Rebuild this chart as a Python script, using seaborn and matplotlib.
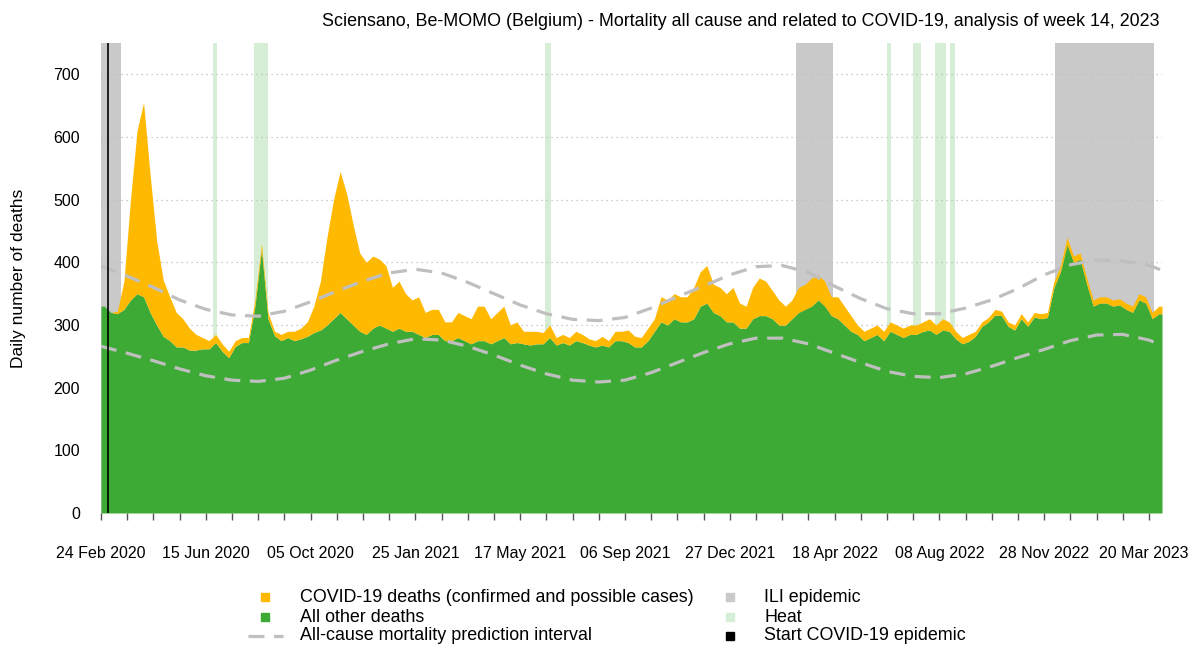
import pandas as pd
import matplotlib
matplotlib.use("Agg")
import matplotlib.pyplot as plt
import matplotlib.transforms as mtransforms
from matplotlib.lines import Line2D
import seaborn as sns

# Mean daily deaths per week, weeks starting Monday 24 Feb 2020 (162 weeks)
other_deaths = [
    330, 320, 318, 325, 340, 350, 345, 320, 300, 282, 275, 265, 265, 260, 260, 262,
    262, 272, 258, 248, 266, 272, 272, 330, 420, 310, 283, 275, 280, 275, 278, 282,
    288, 292, 300, 310, 320, 310, 300, 290, 285, 295, 300, 295, 290, 295, 290, 290,
    285, 280, 285, 285, 275, 275, 280, 275, 270, 275, 275, 270, 275, 280, 270, 272,
    270, 268, 270, 270, 280, 268, 272, 268, 275, 272, 268, 265, 268, 265, 275, 275,
    272, 265, 265, 275, 290, 305, 300, 310, 305, 305, 310, 330, 335, 320, 315, 305,
    305, 295, 295, 310, 315, 315, 310, 300, 300, 310, 320, 325, 330, 340, 330, 315,
    310, 300, 290, 285, 275, 280, 285, 275, 290, 285, 280, 285, 285, 290, 292, 285,
    292, 290, 278, 270, 274, 282, 298, 305, 316, 315, 298, 292, 310, 298, 313, 310,
    312, 360, 385, 428, 400, 405, 365, 330, 335, 335, 330, 332, 325, 320, 340, 335,
    310, 318,
]
covid_deaths = [
    0, 0, 4, 45, 160, 260, 310, 220, 135, 90, 70, 55, 45, 35, 25, 18,
    13, 13, 12, 10, 9, 8, 8, 10, 10, 10, 7, 10, 10, 15, 17, 23,
    42, 78, 140, 190, 225, 200, 160, 125, 115, 115, 105, 100, 70, 75, 60, 50,
    60, 40, 40, 40, 30, 30, 40, 40, 40, 55, 55, 40, 45, 50, 30, 33,
    20, 22, 20, 18, 20, 12, 13, 12, 15, 13, 10, 10, 14, 10, 15, 15,
    20, 17, 15, 20, 20, 40, 40, 40, 40, 40, 50, 55, 60, 45, 45, 45,
    55, 40, 35, 50, 60, 55, 45, 40, 30, 30, 40, 40, 45, 40, 40, 30,
    35, 30, 25, 15, 15, 15, 15, 15, 15, 15, 15, 15, 15, 15, 18, 15,
    18, 15, 12, 10, 11, 8, 7, 7, 9, 7, 7, 8, 8, 7, 7, 8,
    8, 10, 10, 12, 10, 10, 10, 10, 10, 10, 10, 10, 10, 10, 10, 10,
    10, 12,
]

# All-cause prediction interval, every 28 days from 24 Feb 2020, last value on 2 Apr 2023
pi_upper = [394, 378, 360, 340, 325, 316, 314, 322, 337, 354, 370, 383, 389, 383,
            368, 350, 332, 318, 309, 307, 312, 327, 345, 362, 380, 393, 395, 384,
            362, 342, 326, 318, 318, 327, 340, 358, 380, 396, 404, 402, 395, 388]
pi_lower = [266, 255, 243, 230, 219, 212, 210, 215, 228, 244, 258, 270, 278, 276,
            266, 252, 236, 222, 212, 209, 212, 224, 240, 256, 270, 279, 279, 270,
            255, 240, 226, 218, 216, 222, 234, 248, 261, 275, 284, 285, 276, 268]

ili_periods = [("2020-02-24", "2020-03-16"), ("2022-03-08", "2022-04-16"),
               ("2022-12-10", "2023-03-25")]
heat_periods = [("2020-06-23", "2020-06-27"), ("2020-08-05", "2020-08-21"),
                ("2021-06-13", "2021-06-19"), ("2022-06-13", "2022-06-17"),
                ("2022-07-11", "2022-07-19"), ("2022-08-03", "2022-08-15"),
                ("2022-08-19", "2022-08-25")]
covid_start = "2020-03-02"

title = ("Sciensano, Be-MOMO (Belgium) - Mortality all cause and related to "
         "COVID-19, analysis of week 14, 2023")
legend_left = ["COVID-19 deaths (confirmed and possible cases)", "All other deaths",
               "All-cause mortality prediction interval"]
legend_right = ["ILI epidemic", "Heat", "Start COVID-19 epidemic"]

YELLOW = "#FFB900"
GREEN = "#3DAA35"
ILI_GREY = "#C9C9C9"
HEAT = "#D6EED6"
DASH = "#BFBFBF"

sns.set_theme(style="white")
plt.rcParams["font.family"] = ["Liberation Sans", "DejaVu Sans"]

first_day = pd.Timestamp("2020-02-24")
last_day = pd.Timestamp("2023-04-03")

n_weeks = len(other_deaths)
centers = [first_day + pd.Timedelta(days=7 * w + 3.5) for w in range(n_weeks)]
weekly = pd.DataFrame({"date": centers, "other": other_deaths, "covid": covid_deaths})
weekly["total"] = weekly["other"] + weekly["covid"]
# carry the first and last week out to the edges of the period
edge = pd.DataFrame({"date": [first_day, last_day],
                     "other": [other_deaths[0], other_deaths[-1]],
                     "covid": [covid_deaths[0], covid_deaths[-1]]})
edge["total"] = edge["other"] + edge["covid"]
weekly = pd.concat([edge.iloc[[0]], weekly, edge.iloc[[1]]], ignore_index=True)

pi_dates = list(pd.date_range(first_day, periods=len(pi_upper) - 1, freq="28D")) + \
    [pd.Timestamp("2023-04-02")]
pi = pd.DataFrame({"date": pi_dates, "upper": pi_upper, "lower": pi_lower})

W, H = 1193, 646
fig = plt.figure(figsize=(W / 100, H / 100), dpi=100)
ax = fig.add_axes([101 / W, 1 - 513 / H, 1061 / W, 470 / H])

for s, e in ili_periods:
    ax.axvspan(pd.Timestamp(s), pd.Timestamp(e), color=ILI_GREY, lw=0, zorder=0.2)
for s, e in heat_periods:
    ax.axvspan(pd.Timestamp(s), pd.Timestamp(e), color=HEAT, lw=0, zorder=0.2)

ax.fill_between(weekly["date"], 0, weekly["other"], color=GREEN, lw=0, zorder=2)
ax.fill_between(weekly["date"], weekly["other"], weekly["total"], color=YELLOW,
                lw=0, zorder=2)

for col in ["upper", "lower"]:
    sns.lineplot(data=pi, x="date", y=col, ax=ax, color=DASH, lw=2.3,
                 dashes=False, zorder=3)
for ln in ax.get_lines():
    ln.set_dashes((5, 3))

ax.axvline(pd.Timestamp(covid_start), color="black", lw=1.2, zorder=4)

ax.set_xlim(first_day, last_day)
ax.set_ylim(0, 750)
ax.set_yticks(range(0, 800, 100))
ax.set_axisbelow(True)
ax.yaxis.grid(True, color="#BDBDBD", lw=0.9, ls=(0, (1, 3)))
ax.xaxis.grid(False)
for sp in ax.spines.values():
    sp.set_visible(False)

major = pd.date_range(first_day, "2023-03-20", freq="112D")
minor = pd.date_range(first_day, "2023-03-20", freq="28D")
ax.set_xticks(minor, minor=True)
ax.set_xticks(major)
ax.set_xticklabels([d.strftime("%d %b %Y") for d in major])
ax.tick_params(axis="x", which="both", bottom=True, length=5, width=1,
               color="#555555", labelsize=11.5, pad=19, labelcolor="black")
ax.tick_params(axis="y", length=0, labelsize=11.5, pad=15, labelcolor="black")
# keep the last date label inside the figure
last_lab = ax.get_xticklabels()[-1]
last_lab.set_transform(last_lab.get_transform() +
                       mtransforms.ScaledTranslation(-5 / 100, 0, fig.dpi_scale_trans))

ax.set_xlabel("")
ax.set_ylabel("Daily number of deaths", fontsize=12.5, color="black")
ax.yaxis.set_label_coords(-0.0705, 0.5)

fig.text(1160 / W, 1 - 22 / H, title, ha="right", va="center", fontsize=12.9,
         color="black")

# legend drawn in two columns below the plot
rows_y = [597, 617, 636]
left_handles = [("sq", YELLOW), ("sq", GREEN), ("dash", DASH)]
right_handles = [("sq", ILI_GREY), ("sq", HEAT), ("sq", "black")]


def legend_entry(kind, color, hx, tx, y, label):
    fy = 1 - y / H
    if kind == "sq":
        fig.add_artist(Line2D([hx / W], [fy], marker="s", markersize=6, color=color,
                              ls="none", transform=fig.transFigure))
    else:
        fig.add_artist(Line2D([(hx - 17) / W, (hx + 18) / W], [fy, fy], color=color,
                              lw=2.3, dashes=(5, 3), transform=fig.transFigure))
    fig.text(tx / W, fy, label, ha="left", va="center", fontsize=12.9, color="black")


for (kind, color), label, y in zip(left_handles, legend_left, rows_y):
    legend_entry(kind, color, 265, 300, y, label)
for (kind, color), label, y in zip(right_handles, legend_right, rows_y):
    legend_entry(kind, color, 730, 764, y, label)

fig.savefig("out.png", dpi=100)
